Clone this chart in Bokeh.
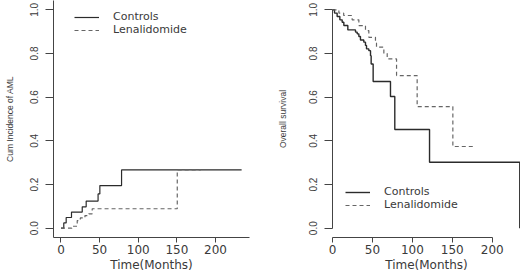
from bokeh.plotting import figure
from bokeh.layouts import row
from bokeh.models import Range1d, FixedTicker, Legend, LegendItem
from bokeh.embed import file_html
from bokeh.resources import INLINE

# ---------------- data ----------------
x_ticks = [0, 50, 100, 150, 200]
y_ticks = [0.0, 0.2, 0.4, 0.6, 0.8, 1.0]
y_tick_labels = ["0.0", "0.2", "0.4", "0.6", "0.8", "1.0"]
series_names = ["Controls", "Lenalidomide"]
x_title = "Time(Months)"
left_y_title = "Cum Incidence of AML"
right_y_title = "Overall survival"

# Cumulative incidence of AML (left panel)
aml_ctrl_t = [0, 3.6, 6.7, 13.6, 27.5, 32.6, 48, 50.3, 78.4, 233.8]
aml_ctrl_v = [0, 0.024, 0.049, 0.074, 0.098, 0.124, 0.157, 0.195, 0.267, 0.267]
aml_len_t = [0, 14, 21, 25, 31, 36, 40.4, 150.5, 181]
aml_len_v = [0, 0.009, 0.035, 0.047, 0.058, 0.066, 0.089, 0.267, 0.267]

# Overall survival (right panel)
os_ctrl_t = [0, 2.5, 5.8, 9.2, 12.1, 14.2, 19.2, 28.8, 30.9, 33, 35, 39.2, 41.3,
             42.6, 45.5, 47.6, 48.4, 50.9, 72.6, 78, 121.5, 234.5]
os_ctrl_v = [1.0, 0.985, 0.969, 0.954, 0.943, 0.928, 0.908, 0.898, 0.89, 0.878,
             0.862, 0.852, 0.837, 0.821, 0.813, 0.79, 0.752, 0.672, 0.603, 0.452,
             0.302, 0.0]
os_len_t = [0, 8, 14, 24.6, 33, 41.3, 45.5, 53.8, 55.1, 64.3, 68.5, 80.2, 106,
            150.7, 179]
os_len_v = [1.0, 0.985, 0.974, 0.954, 0.928, 0.905, 0.874, 0.847, 0.829, 0.80,
            0.775, 0.699, 0.557, 0.374, 0.374]

# ---------------- style ----------------
FONT = "DejaVu Sans"
YFONT = "Liberation Sans"
TXT = "#3a3a3a"
AX = "#444444"
SOLID = "#2b2b2b"
DASH = "#666666"


def make_fig(width, border_left, border_right, x_range, x_bounds, y_bounds,
             ytitle, ytitle_standoff):
    p = figure(width=width, height=274, output_backend="svg", toolbar_location=None,
               x_range=x_range, y_range=Range1d(-0.0426, 1.0426),
               min_border_left=border_left, min_border_right=border_right,
               min_border_top=0, min_border_bottom=37)
    p.outline_line_color = None
    p.grid.visible = False
    p.background_fill_color = "white"
    p.border_fill_color = "white"

    xa = p.xaxis[0]
    xa.ticker = FixedTicker(ticks=x_ticks)
    xa.bounds = x_bounds
    xa.axis_line_color = AX
    xa.major_tick_line_color = AX
    xa.minor_tick_line_color = None
    xa.major_tick_out = 5
    xa.major_tick_in = 0
    xa.major_label_standoff = 2
    xa.major_label_text_font = FONT
    xa.major_label_text_font_size = "12px"
    xa.major_label_text_color = TXT
    xa.axis_label = x_title
    xa.axis_label_standoff = 1
    xa.axis_label_text_font = FONT
    xa.axis_label_text_font_size = "12px"
    xa.axis_label_text_font_style = "normal"
    xa.axis_label_text_color = TXT

    ya = p.yaxis[0]
    ya.ticker = FixedTicker(ticks=y_ticks)
    ya.major_label_overrides = {t: s for t, s in zip(y_ticks, y_tick_labels)}
    ya.bounds = y_bounds
    ya.axis_line_color = AX
    ya.major_tick_line_color = AX
    ya.minor_tick_line_color = None
    ya.major_tick_out = 8
    ya.major_tick_in = 0
    ya.major_label_standoff = 7
    ya.major_label_orientation = "vertical"
    ya.major_label_text_font = YFONT
    ya.major_label_text_font_size = "10px"
    ya.major_label_text_color = TXT
    ya.axis_label = ytitle
    ya.axis_label_standoff = ytitle_standoff
    ya.axis_label_text_font = YFONT
    ya.axis_label_text_font_size = "8.5px"
    ya.axis_label_text_font_style = "normal"
    ya.axis_label_text_color = TXT
    return p


def add_legend_item(p, label, renderer, loc):
    lg = Legend(items=[LegendItem(label=label, renderers=[renderer])], location=loc)
    lg.border_line_alpha = 0
    lg.background_fill_alpha = 0
    lg.padding = 0
    lg.margin = 0
    lg.spacing = 0
    lg.glyph_width = 25
    lg.glyph_height = 10
    lg.label_height = 10
    lg.label_standoff = 14
    lg.label_text_font = FONT
    lg.label_text_font_size = "11px"
    lg.label_text_color = TXT
    p.add_layout(lg)


# Left panel: cumulative incidence
left = make_fig(260, 53, 11, Range1d(-9.7, 244.0), "auto", "auto", left_y_title, 13)
r_lc = left.step(aml_ctrl_t, aml_ctrl_v, mode="after", line_color=SOLID, line_width=1.2)
r_ll = left.step(aml_len_t, aml_len_v, mode="after", line_color=DASH, line_width=1.2,
                 line_dash="4 3")
add_legend_item(left, series_names[0], r_lc, (21, 214))
add_legend_item(left, series_names[1], r_ll, (21, 201))

# Right panel: overall survival
right = make_fig(260, 72, 0, Range1d(0, 235.4), (0, 200), (0, 1), right_y_title, 19)
r_rc = right.step(os_ctrl_t, os_ctrl_v, mode="after", line_color=SOLID, line_width=1.4)
r_rl = right.step(os_len_t, os_len_v, mode="after", line_color=DASH, line_width=1.2,
                  line_dash="4 3")
add_legend_item(right, series_names[0], r_rc, (13, 39))
add_legend_item(right, series_names[1], r_rl, (13, 26))

layout = row(left, right, spacing=0)
open("out.html", "w").write(file_html(layout, INLINE))
